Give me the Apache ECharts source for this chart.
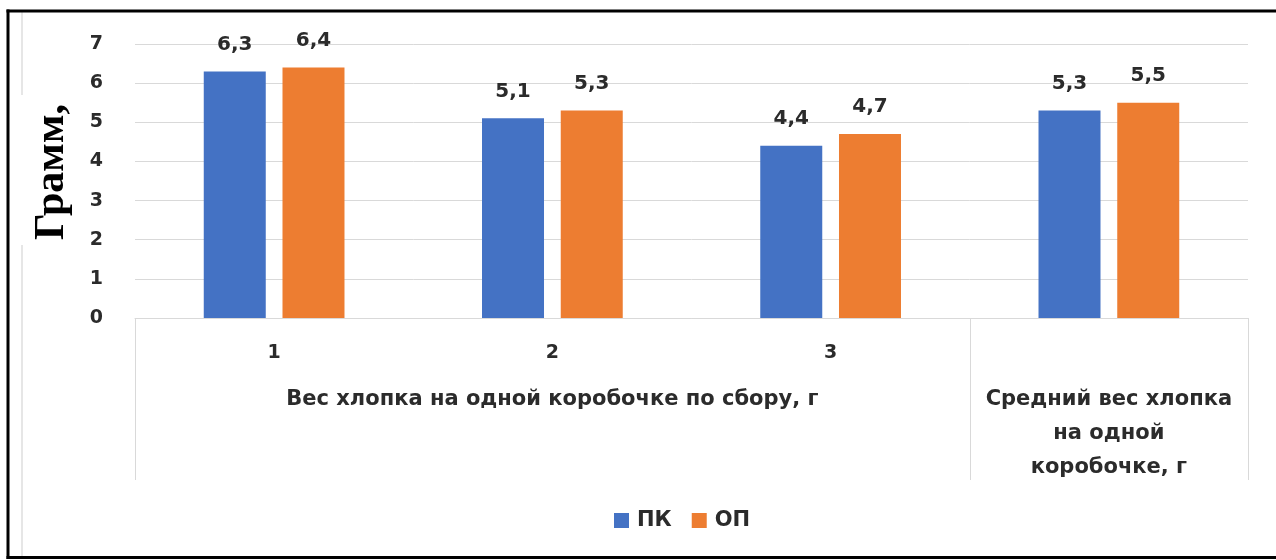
<!DOCTYPE html>
<html>
<head>
<meta charset="utf-8">
<script src="https://cdn.jsdelivr.net/npm/echarts@6/dist/echarts.min.js"></script>
<style>
html,body{margin:0;padding:0;background:#fff;}
#chart{width:1276px;height:560px;}
</style>
</head>
<body>
<div id="chart"></div>
<script>
const categories = ['1', '2', '3', ''];
const seriesNames = ['ПК', 'ОП'];
const pkValues = [6.3, 5.1, 4.4, 5.3];
const opValues = [6.4, 5.3, 4.7, 5.5];
const groupLabels = ['Вес хлопка на одной коробочке по сбору, г', 'Средний вес хлопка\nна одной\nкоробочке, г'];
const groupCenters = [1.5, 3.5];
const groupBounds = [0, 3, 4];
const yTicks = [0, 1, 2, 3, 4, 5, 6, 7];
const yName = 'Грамм,';

const textColor = '#2b2b2b';
const font = 'DejaVu Sans';
const chart = echarts.init(document.getElementById('chart'));
const fmt = v => String(v).replace('.', ',');

chart.setOption({
  animation: false,
  backgroundColor: '#ffffff',
  grid: { left: 135, right: 28, top: 44, bottom: 242, containLabel: false },
  legend: {
    data: seriesNames,
    left: 609, top: 505,
    icon: 'rect', itemWidth: 15, itemHeight: 15, itemGap: 20,
    textStyle: { fontFamily: font, fontWeight: 'bold', fontSize: 21, color: textColor, padding: [0, 0, 0, 3] }
  },
  xAxis: [
    {
      type: 'category', data: categories,
      axisLine: { show: true, lineStyle: { color: '#d9d9d9', width: 1 } },
      axisTick: { show: false },
      axisLabel: { margin: 26, fontFamily: font, fontWeight: 'bold', fontSize: 19, color: textColor }
    },
    {
      type: 'value', min: 0, max: 4, position: 'bottom',
      axisLine: { show: false },
      splitLine: { show: false },
      axisTick: { show: true, length: 162, customValues: groupBounds, lineStyle: { color: '#d9d9d9', width: 1 } },
      axisLabel: {
        customValues: groupCenters, margin: 65,
        formatter: v => groupLabels[groupCenters.indexOf(v)] || '',
        fontFamily: font, fontWeight: 'bold', fontSize: 21, lineHeight: 34, color: textColor, align: 'center'
      }
    }
  ],
  yAxis: {
    type: 'value', min: yTicks[0], max: yTicks[yTicks.length - 1], interval: 1,
    name: yName, nameLocation: 'middle', nameGap: 62,
    nameTextStyle: { fontFamily: 'Liberation Serif', fontWeight: 'bold', fontSize: 42, color: '#000', padding: [0, 0, 0, 18] },
    axisLine: { show: false }, axisTick: { show: false },
    splitLine: { lineStyle: { color: '#d9d9d9', width: 1 } },
    axisLabel: { margin: 32, fontFamily: font, fontWeight: 'bold', fontSize: 19, color: textColor }
  },
  series: [
    {
      name: seriesNames[0], type: 'bar', data: pkValues, barWidth: 62, barGap: '27%',
      itemStyle: { color: '#4472C4' },
      label: { show: true, position: 'top', distance: 17, formatter: p => fmt(p.value), fontFamily: font, fontWeight: 'bold', fontSize: 20, color: textColor }
    },
    {
      name: seriesNames[1], type: 'bar', data: opValues, barWidth: 62,
      itemStyle: { color: '#ED7D31' },
      label: { show: true, position: 'top', distance: 17, formatter: p => fmt(p.value), fontFamily: font, fontWeight: 'bold', fontSize: 20, color: textColor }
    }
  ],
  graphic: [
    { type: 'line', shape: { x1: 22, y1: 12, x2: 22, y2: 95 }, style: { stroke: '#e6e6e6', lineWidth: 2 }, silent: true },
    { type: 'line', shape: { x1: 22, y1: 245, x2: 22, y2: 556 }, style: { stroke: '#e6e6e6', lineWidth: 2 }, silent: true },
    { type: 'line', shape: { x1: 6.5, y1: 11, x2: 1276, y2: 11 }, style: { stroke: '#000', lineWidth: 3 }, silent: true },
    { type: 'line', shape: { x1: 8, y1: 9.5, x2: 8, y2: 559 }, style: { stroke: '#000', lineWidth: 3 }, silent: true },
    { type: 'line', shape: { x1: 6.5, y1: 557.5, x2: 1276, y2: 557.5 }, style: { stroke: '#000', lineWidth: 3 }, silent: true }
  ]
});
</script>
</body>
</html>
